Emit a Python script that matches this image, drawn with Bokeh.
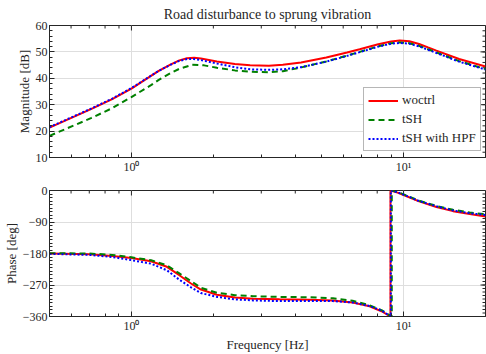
import math
from bokeh.plotting import figure
from bokeh.layouts import column
from bokeh.models import Legend, LegendItem, Range1d, FixedTicker
from bokeh.embed import file_html
from bokeh.resources import INLINE

FONT = "Liberation Serif"
TXT = "#262626"

# ---- magnitude data ----
f_mag_woctrl = [0.5, 0.71, 0.85, 1.0, 1.18, 1.26, 1.39, 1.5, 1.6, 1.7, 1.8, 2.06, 2.4, 2.73, 3.2, 3.6, 4.2, 5.2, 6.2, 6.9, 8.07, 9.0, 9.68, 10.5, 11.4, 12.3, 13.2, 16.0, 20.0]
mag_woctrl   = [21.3, 28.3, 32.1, 36.1, 40.9, 42.8, 45.2, 46.8, 47.6, 47.8, 47.5, 46.4, 45.4, 44.9, 44.8, 45.1, 46.0, 47.9, 49.8, 51.0, 52.9, 53.9, 54.3, 54.0, 53.0, 51.7, 50.5, 47.3, 44.5]

f_mag_tsh = [0.5, 0.71, 0.85, 1.0, 1.18, 1.26, 1.39, 1.5, 1.67, 1.85, 2.06, 2.4, 2.73, 3.2, 3.6, 4.2, 5.2, 6.2, 6.9, 8.07, 9.0, 9.68, 10.5, 11.4, 12.3, 13.2, 16.0, 20.0]
mag_tsh   = [18.2, 24.9, 28.7, 32.9, 37.4, 39.4, 41.9, 43.6, 45.1, 44.9, 44.0, 43.0, 42.5, 42.3, 42.7, 44.1, 46.4, 48.6, 50.0, 52.1, 53.3, 53.6, 53.3, 52.3, 51.0, 49.8, 46.5, 43.5]

f_mag_hpf = [0.5, 0.71, 0.85, 1.0, 1.18, 1.26, 1.39, 1.5, 1.6, 1.7, 1.8, 2.06, 2.4, 2.73, 3.2, 3.6, 4.2, 5.2, 6.2, 6.9, 8.07, 9.0, 9.68, 10.5, 11.4, 12.3, 13.2, 16.0, 20.0]
mag_hpf   = [21.5, 28.5, 32.3, 36.3, 41.0, 42.8, 45.1, 46.6, 47.3, 47.3, 46.9, 45.6, 44.2, 43.4, 43.2, 43.4, 44.2, 46.3, 48.5, 49.9, 52.0, 53.1, 53.4, 53.1, 52.1, 50.8, 49.6, 46.3, 43.3]

# ---- phase data (wrapped at -360) ----
f_ph_woctrl = [0.5, 0.7, 0.85, 1.0, 1.18, 1.35, 1.5, 1.65, 1.8, 2.06, 2.4, 2.8, 3.5, 4.5, 5.5, 6.5, 7.5, 8.3, 8.95, 8.95, 9.5, 10.0, 11.4, 13.2, 15.2, 17.5, 20.0]
ph_woctrl   = [-180, -182, -187, -193, -202, -218, -242, -265, -283, -298, -306, -309, -311, -312, -314, -320, -331, -345, -360, 0, -6, -13, -31, -47, -59, -67, -74]

f_ph_tsh = [0.5, 0.7, 0.85, 1.0, 1.18, 1.35, 1.5, 1.65, 1.8, 2.06, 2.4, 2.8, 3.5, 4.5, 5.5, 6.5, 7.5, 8.3, 9.05, 9.05, 9.5, 10.0, 11.4, 13.2, 15.2, 17.5, 20.0]
ph_tsh   = [-179, -180, -184, -191, -199, -214, -237, -258, -278, -292, -299, -302, -304, -305, -308, -315, -328, -342, -360, 0, -4, -11, -29, -44, -55, -63, -68]

f_ph_hpf = [0.5, 0.7, 0.85, 1.0, 1.18, 1.35, 1.5, 1.65, 1.8, 2.06, 2.4, 2.8, 3.5, 4.5, 5.5, 6.5, 7.5, 8.3, 8.98, 8.98, 9.5, 10.0, 11.4, 13.2, 15.2, 17.5, 20.0]
ph_hpf   = [-181, -184, -190, -199, -209, -228, -255, -276, -293, -304, -311, -314, -316, -316, -316, -320, -330, -343, -360, 0, -5, -12, -30, -45, -57, -65, -70]

series_names = ["woctrl", "tSH", "tSH with HPF"]
series_colors = ["#ff0000", "#008000", "#0000ff"]
series_dash = ["solid", "6 4", "2 2"]

x_range_lim = (0.5, 20)
x_major = [1, 10]
x_minor = [0.5, 0.6, 0.7, 0.8, 0.9, 2, 3, 4, 5, 6, 7, 8, 9, 20]
x_tick_labels = {1: "10\u2070", 10: "10\u00b9"}

mag_lim = (10, 60)
mag_major = [10, 20, 30, 40, 50, 60]
mag_minor = list(range(10, 61, 2))
ph_lim = (-360, 0)
ph_major = [-360, -270, -180, -90, 0]
ph_minor = list(range(-360, 1, 10))


def style_axis(ax):
    ax.major_tick_in = 5
    ax.major_tick_out = 0
    ax.minor_tick_in = 3
    ax.minor_tick_out = 0
    ax.axis_line_color = TXT
    ax.major_tick_line_color = TXT
    ax.minor_tick_line_color = TXT
    ax.major_label_text_font = FONT
    ax.major_label_text_font_size = "12px"
    ax.major_label_text_color = TXT
    ax.major_label_standoff = 2
    ax.axis_label_text_font = FONT
    ax.axis_label_text_font_size = "13px"
    ax.axis_label_text_font_style = "normal"
    ax.axis_label_text_color = TXT
    ax.axis_label_standoff = 1


def make_fig(yr, ymajor, yminor, ylabel, xlabel, height, top_border, bottom_border, title=None):
    p = figure(width=486, height=height, x_axis_type="log",
               x_range=Range1d(*x_range_lim), y_range=Range1d(*yr),
               output_backend="svg", toolbar_location=None,
               min_border_left=41, min_border_right=1,
               min_border_top=top_border, min_border_bottom=bottom_border)
    p.xaxis.ticker = FixedTicker(ticks=x_major, minor_ticks=x_minor)
    p.xaxis.major_label_overrides = x_tick_labels
    p.yaxis.ticker = FixedTicker(ticks=ymajor, minor_ticks=yminor)
    style_axis(p.xaxis[0])
    style_axis(p.yaxis[0])
    p.yaxis.axis_label = ylabel
    if xlabel:
        p.xaxis.axis_label = xlabel
    p.xgrid.ticker = FixedTicker(ticks=x_major)
    p.ygrid.ticker = FixedTicker(ticks=ymajor)
    p.xgrid.grid_line_color = "#dedede"
    p.ygrid.grid_line_color = "#dedede"
    p.outline_line_color = TXT
    p.background_fill_color = "white"
    p.border_fill_color = "white"
    # inward ticks on the right and top edges of the box
    p.ray(x=[x_range_lim[1]] * len(ymajor), y=ymajor, length=5, length_units="screen",
          angle=math.pi, line_color=TXT, line_width=1)
    p.ray(x=[x_range_lim[1]] * len(yminor), y=yminor, length=3, length_units="screen",
          angle=math.pi, line_color=TXT, line_width=1)
    p.ray(x=x_major, y=[yr[1]] * len(x_major), length=5, length_units="screen",
          angle=-math.pi / 2, line_color=TXT, line_width=1)
    p.ray(x=x_minor, y=[yr[1]] * len(x_minor), length=3, length_units="screen",
          angle=-math.pi / 2, line_color=TXT, line_width=1)
    if title:
        p.title.text = title
        p.title.align = "center"
        p.title.text_font = FONT
        p.title.text_font_size = "14px"
        p.title.text_font_style = "normal"
        p.title.text_color = TXT
        p.title.standoff = 8
    return p


p1 = make_fig(mag_lim, mag_major, mag_minor, "Magnitude [dB]", None, 179, 0, 22,
              title="Road disturbance to sprung vibration")
p2 = make_fig(ph_lim, ph_major, ph_minor, "Phase [deg]", "Frequency [Hz]", 175, 11, 0)

mag_f = [f_mag_woctrl, f_mag_tsh, f_mag_hpf]
mag_v = [mag_woctrl, mag_tsh, mag_hpf]
ph_f = [f_ph_woctrl, f_ph_tsh, f_ph_hpf]
ph_v = [ph_woctrl, ph_tsh, ph_hpf]

items = []
for i in range(3):
    r = p1.line(mag_f[i], mag_v[i], line_color=series_colors[i], line_width=2,
                line_dash=series_dash[i])
    items.append(LegendItem(label=series_names[i], renderers=[r]))
    p2.line(ph_f[i], ph_v[i], line_color=series_colors[i], line_width=2,
            line_dash=series_dash[i])

legend = Legend(items=items, location=(314, 6))
legend.label_text_font = FONT
legend.label_text_font_size = "13px"
legend.label_text_color = TXT
legend.glyph_width = 30
legend.glyph_height = 13
legend.label_height = 13
legend.spacing = 3
legend.padding = 4
legend.margin = 0
legend.label_standoff = 4
legend.border_line_color = "#6e6e6e"
legend.border_line_width = 1.5
legend.background_fill_color = "white"
legend.background_fill_alpha = 1
p1.add_layout(legend, "center")

layout = column(p1, p2, spacing=0)
open("out.html", "w").write(file_html(layout, INLINE))
